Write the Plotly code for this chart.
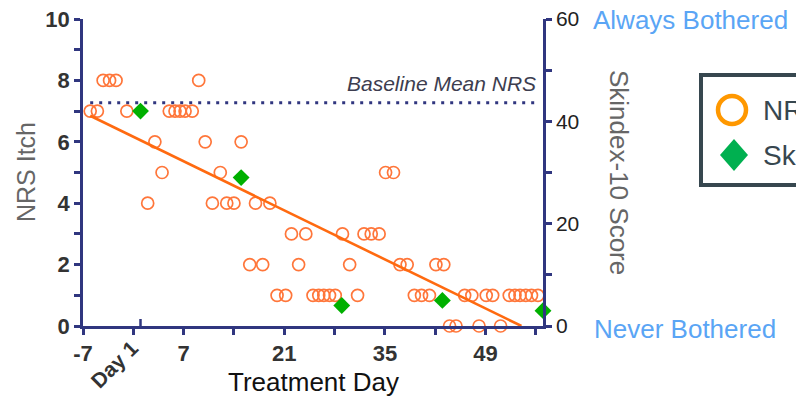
import plotly.graph_objects as go

# ---------------- data ----------------
nrs_day = [-6.0, -5.0, -4.2, -3.3, -2.4, -0.9, 2.0, 3.0, 4.0, 5.0, 5.8, 6.5, 7.2, 8.2, 9.1,
           10.0, 11.0, 12.1, 13.0, 14.0, 15.0, 16.2, 17.0, 18.0, 19.0, 20.0, 21.2, 22.0,
           23.0, 24.0, 25.0, 25.8, 26.5, 27.3, 28.1, 29.1, 30.1, 31.2, 32.1, 33.1, 34.2,
           35.1, 36.2, 37.1, 38.1, 39.1, 40.1, 41.2, 42.1, 43.2, 44.0, 44.9, 46.1, 47.1,
           48.1, 49.1, 50.0, 51.1, 52.3, 53.1, 53.8, 54.6, 55.4, 56.3, 57.1]
nrs_val = [7, 7, 8, 8, 8, 7, 4, 6, 5, 7, 7, 7, 7, 7, 8,
           6, 4, 5, 4, 4, 6, 2, 4, 2, 4, 1, 1, 3,
           2, 3, 1, 1, 1, 1, 1, 3, 2, 1, 3, 3, 3,
           5, 5, 2, 2, 1, 1, 1, 2, 2, 0, 0, 1, 1,
           0, 1, 1, 0, 1, 1, 1, 1, 1, 1, 1]

skindex_day = [1, 15, 29, 43, 57]
skindex_val = [42, 29, 4, 5, 3]

trend_day = [-6, 54]
trend_val = [6.85, 0.0]

baseline_day = [-6, 56]
baseline_val = [7.27, 7.27]

x_tickvals = [-7, 0, 7, 14, 21, 28, 35, 42, 49, 56]
x_ticktext = ["-7", "", "7", "", "21", "", "35", "", "49", ""]
y_tickvals = list(range(0, 11))
y_ticktext = ["0", "", "2", "", "4", "", "6", "", "8", "", "10"]
y2_tickvals = [0, 10, 20, 30, 40, 50, 60]
y2_ticktext = ["0", "", "20", "", "40", "", "60"]

# ---------------- layout helpers ----------------
OFF = 8                     # page body margin
W, H = 804 - OFF, 396 - OFF
L, R, T, B = 83, 543, 19, 326   # plot area in screen pixels


def px(x):
    return (x - L) / (R - L)


def py(y):
    return (B - y) / (B - T)


NAVY = "#30367F"
FONT = "Liberation Sans, Arial, sans-serif"

fig = go.Figure()

fig.add_trace(go.Scatter(
    x=baseline_day, y=baseline_val, mode="lines",
    line=dict(color=NAVY, width=3, dash="3px,6px"),
    showlegend=False, hoverinfo="skip"))

fig.add_trace(go.Scatter(
    x=nrs_day, y=nrs_val, mode="markers", name="NRS Itch",
    marker=dict(symbol="circle-open", size=12, color="#FF763A",
                line=dict(width=1.7, color="#FF763A")),
    cliponaxis=False, showlegend=False))

fig.add_trace(go.Scatter(
    x=trend_day, y=trend_val, mode="lines",
    line=dict(color="#FF6A10", width=2.6),
    cliponaxis=False, showlegend=False, hoverinfo="skip"))

fig.add_trace(go.Scatter(
    x=skindex_day, y=skindex_val, mode="markers", name="Skindex-10",
    marker=dict(symbol="diamond", size=13, color="#00B000", line=dict(width=0)),
    yaxis="y2", cliponaxis=False, showlegend=False))

axis_common = dict(showline=True, linecolor=NAVY, linewidth=2.5, ticks="outside",
                   ticklen=6, tickwidth=2.5, tickcolor=NAVY, showgrid=False,
                   zeroline=False, ticklabeloverflow="allow")

fig.update_layout(
    width=W, height=H,
    margin=dict(l=L - OFF, r=804 - R, t=T - OFF, b=396 - B, autoexpand=False),
    paper_bgcolor="white", plot_bgcolor="white",
    showlegend=False,
    xaxis=dict(range=[-7, 57], tickmode="array", tickvals=x_tickvals,
               ticktext=x_ticktext,
               tickfont=dict(family=FONT, size=22, color="#333333", weight="bold"),
               **axis_common),
    yaxis=dict(range=[0, 10], tickmode="array", tickvals=y_tickvals,
               ticktext=y_ticktext,
               tickfont=dict(family=FONT, size=22, color="#333333", weight="bold"),
               **axis_common),
    yaxis2=dict(range=[0, 60], overlaying="y", side="right", anchor="x",
                tickmode="array", tickvals=y2_tickvals, ticktext=y2_ticktext,
                tickfont=dict(family=FONT, size=21, color="#222222"),
                **axis_common),
)

ann = []
ann.append(dict(text="NRS Itch", x=px(26), y=py(172), textangle=-90,
                font=dict(family=FONT, size=25, color="#666666")))
ann.append(dict(text="Treatment Day", x=px(313), y=py(382),
                font=dict(family=FONT, size=26, color="#111111")))
ann.append(dict(text="Day 1", x=px(114), y=py(364), textangle=-45,
                font=dict(family=FONT, size=21, color="#333333", weight="bold")))
ann.append(dict(text="Skindex-10 Score", x=px(619), y=py(172), textangle=90,
                font=dict(family=FONT, size=26, color="#666666")))
ann.append(dict(text="Always Bothered", x=px(591), y=py(20), xanchor="left",
                font=dict(family=FONT, size=26, color="#5AA5F5")))
ann.append(dict(text="Never Bothered", x=px(592), y=py(329), xanchor="left",
                font=dict(family=FONT, size=26, color="#5AA5F5")))
ann.append(dict(text="<i>Baseline Mean NRS</i>", x=px(538), y=py(83), xanchor="right",
                font=dict(family=FONT, size=21, color="#3D3D4F")))
ann.append(dict(text="NRS Itch", x=px(761), y=py(110), xanchor="left",
                font=dict(family=FONT, size=28, color="#37474F")))
ann.append(dict(text="Skindex-10", x=px(761), y=py(155), xanchor="left",
                font=dict(family=FONT, size=28, color="#37474F")))
for a in ann:
    a.update(xref="paper", yref="paper", showarrow=False)
    a.setdefault("xanchor", "center")
    a.setdefault("yanchor", "middle")
fig.update_layout(annotations=ann)

shapes = []
# inward tick marking Day 1
shapes.append(dict(type="line", xref="x", yref="paper", x0=1, x1=1, y0=0, y1=7 / (B - T),
                   line=dict(color=NAVY, width=2.5)))
# legend frame
shapes.append(dict(type="rect", xref="paper", yref="paper",
                   x0=px(701), x1=px(840), y0=py(185), y1=py(75),
                   line=dict(color="#37474F", width=4), fillcolor="rgba(0,0,0,0)"))
# legend circle
cx, cy, r = 732, 110, 14
shapes.append(dict(type="circle", xref="paper", yref="paper",
                   x0=px(cx - r), x1=px(cx + r), y0=py(cy + r), y1=py(cy - r),
                   line=dict(color="#FF9800", width=4.5)))
# legend diamond
dx, dy, hw, hh = 734, 155, 14, 16
path = (f"M {px(dx)},{py(dy - hh)} L {px(dx + hw)},{py(dy)} "
        f"L {px(dx)},{py(dy + hh)} L {px(dx - hw)},{py(dy)} Z")
shapes.append(dict(type="path", xref="paper", yref="paper", path=path,
                   fillcolor="#00B050", line=dict(width=0)))
fig.update_layout(shapes=shapes)

fig.write_html("out.html")
